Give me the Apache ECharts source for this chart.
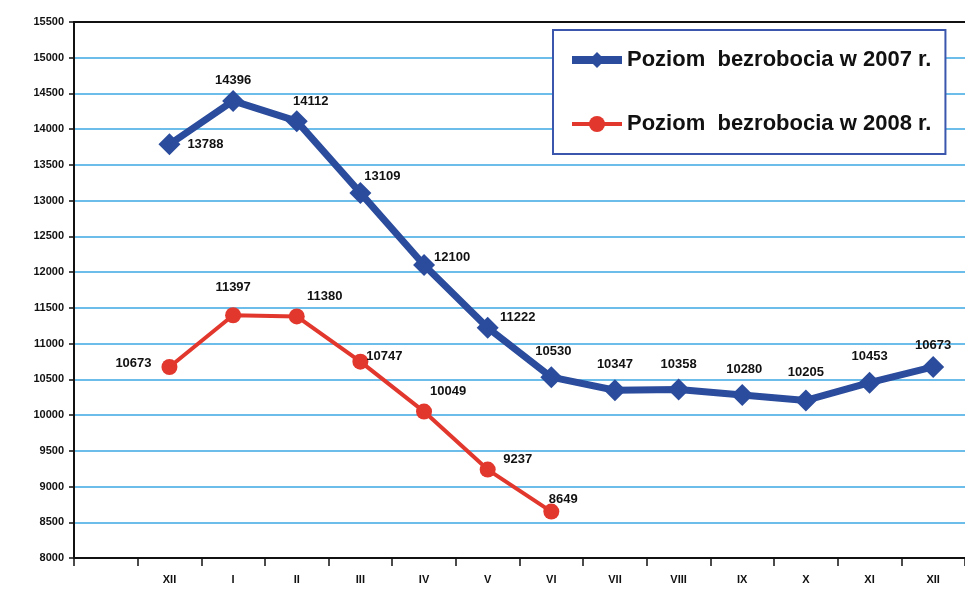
<!DOCTYPE html>
<html>
<head>
<meta charset="utf-8">
<title>Poziom bezrobocia</title>
<script src="https://cdn.jsdelivr.net/npm/echarts@6/dist/echarts.min.js"></script>
<style>
  html, body { margin: 0; padding: 0; background: #fff; }
  #main { width: 965px; height: 592px; }
</style>
</head>
<body>
<div id="main"></div>
<script type="text/javascript">
// months (first slot is empty on the original chart)
var months = ['', 'XII', 'I', 'II', 'III', 'IV', 'V', 'VI', 'VII', 'VIII', 'IX', 'X', 'XI', 'XII'];
var name2007 = 'Poziom  bezrobocia w 2007 r.';
var name2008 = 'Poziom  bezrobocia w 2008 r.';
var values2007 = ['-', 13788, 14396, 14112, 13109, 12100, 11222, 10530, 10347, 10358, 10280, 10205, 10453, 10673];
var values2008 = ['-', 10673, 11397, 11380, 10747, 10049, 9237, 8649, '-', '-', '-', '-', '-', '-'];

// label offsets [dx, dy] per point
var off2007 = [null, [36, 0], [0, -20], [14, -20], [22, -16], [28, -8], [30, -10], [2, -26], [0, -26], [0, -25], [2, -26], [0, -28], [0, -26], [0, -22]];
var off2008 = [null, [-36, -4], [0, -28], [28, -20], [24, -5], [24, -20], [30, -10], [12, -12]];

function build(vals, offs) {
    return vals.map(function (v, i) {
        if (v === '-') return v;
        var o = offs[i] || [0, -22];
        return { value: v, label: { offset: o } };
    });
}

var labelStyle = {
    show: true,
    position: 'inside',
    color: '#111',
    fontFamily: 'Liberation Sans, Arial, sans-serif',
    fontWeight: 'bold',
    fontSize: 13
};

var myChart = echarts.init(document.getElementById('main'));
var option = {
    animation: false,
    backgroundColor: '#fff',
    textStyle: { fontFamily: 'Liberation Sans, Arial, sans-serif' },
    grid: { left: 74, top: 22, width: 898, bottom: 34 },
    legend: {
        orient: 'vertical',
        left: 553,
        top: 30,
        padding: [19, 14, 19, 15],
        itemGap: 42,
        itemWidth: 50,
        itemHeight: 20,
        backgroundColor: '#fff',
        borderColor: '#3b57ad',
        borderWidth: 2,
        textStyle: { fontSize: 22, fontWeight: 'bold', color: '#111', fontFamily: 'Liberation Sans, Arial, sans-serif' },
        data: [
            { name: name2007, lineStyle: { width: 8 } },
            { name: name2008, lineStyle: { width: 4 } }
        ]
    },
    xAxis: [{
        type: 'category',
        data: months,
        boundaryGap: true,
        axisLine: { lineStyle: { color: '#111', width: 2 } },
        axisTick: { show: true, length: 8, interval: 0, lineStyle: { color: '#111', width: 1.5 } },
        axisLabel: { interval: 0, color: '#111', fontWeight: 'bold', fontSize: 11, margin: 16 }
    }, {
        type: 'category',
        data: months,
        position: 'top',
        axisLine: { show: true, lineStyle: { color: '#111', width: 2 } },
        axisTick: { show: false },
        axisLabel: { show: false }
    }],
    yAxis: {
        type: 'value',
        min: 8000,
        max: 15500,
        interval: 500,
        axisLine: { show: true, lineStyle: { color: '#111', width: 2 } },
        axisTick: { show: true, length: 5, lineStyle: { color: '#111', width: 1.5 } },
        axisLabel: { color: '#111', fontWeight: 'bold', fontSize: 11, margin: 10, formatter: function (v) { return String(v); } },
        splitLine: { show: true, lineStyle: { color: '#6cbde9', width: 2 } }
    },
    series: [{
        name: name2007,
        type: 'line',
        data: build(values2007, off2007),
        symbol: 'diamond',
        symbolSize: 22,
        itemStyle: { color: '#2b4c9c' },
        lineStyle: { color: '#2b4c9c', width: 7 },
        label: labelStyle,
        z: 3
    }, {
        name: name2008,
        type: 'line',
        data: build(values2008, off2008),
        symbol: 'circle',
        symbolSize: 16,
        itemStyle: { color: '#e2372d' },
        lineStyle: { color: '#e2372d', width: 4 },
        label: labelStyle,
        z: 2
    }]
};
myChart.setOption(option);
</script>
</body>
</html>
